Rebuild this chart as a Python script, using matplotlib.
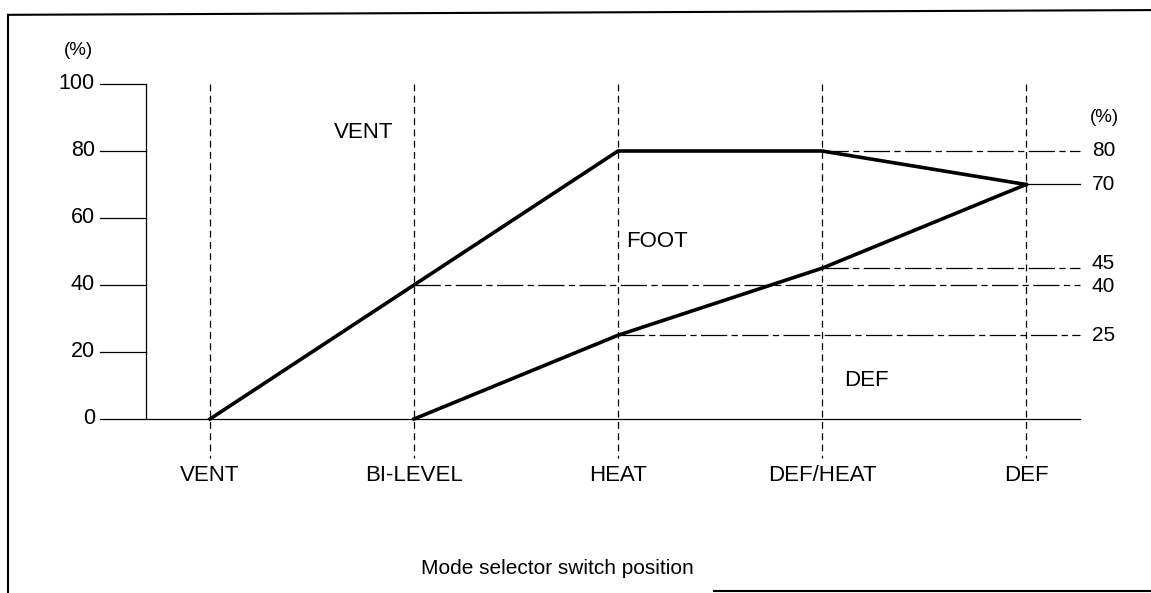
import matplotlib
matplotlib.use('Agg')
import matplotlib.pyplot as plt

plt.rcParams['font.family'] = ['Liberation Sans', 'DejaVu Sans']

# switch positions along the x axis
positions = ['VENT', 'BI-LEVEL', 'HEAT', 'DEF/HEAT', 'DEF']
# upper boundary (VENT / FOOT split), % of airflow
upper_pct = [0, 40, 80, 80, 70]
# lower boundary (FOOT / DEF split), starts at BI-LEVEL
lower_idx = [1, 2, 3, 4]
lower_pct = [0, 25, 45, 70]
# reference levels marked on the right hand scale
ref_levels = [80, 70, 45, 40, 25]
ref_start = [3, 4, 3, 1, 2]
y_ticks = [0, 20, 40, 60, 80, 100]
region_names = ['VENT', 'FOOT', 'DEF']
region_x = [0.755, 2.19, 3.22]
region_y = [85.4, 53, 11.6]

W, H = 1151, 593
fig = plt.figure(figsize=(W / 100, H / 100), dpi=100)
ax = fig.add_axes([0, 0, 1, 1])
ax.axis('off')

# pixel mapping: x=0 at px 210, step 204 px; y=0 at px 419, 3.35 px per %
ax.set_xlim(-210 / 204, (W - 210) / 204)
ax.set_ylim(-(H - 419) / 3.35, 419 / 3.35)

fs = 16      # words
fn = 15.5    # numbers
thin = 0.9
k = 'black'

# outer frame (partial, as scanned)
ax.plot([0.007, 0.007], [0, 0.975], color=k, lw=1.5, transform=ax.transAxes)
ax.plot([0.007, 1.0], [0.975, 0.983], color=k, lw=1.5, transform=ax.transAxes)
ax.plot([0.62, 1.0], [0.003, 0.003], color=k, lw=1.5, transform=ax.transAxes)

# y axis with long ticks
yax_x = (146 - 210) / 204
tick_x0 = (100 - 210) / 204
ax.plot([yax_x, yax_x], [0, 100], color=k, lw=thin)
for t in y_ticks:
    x1 = yax_x if t else (1080 - 210) / 204
    ax.plot([tick_x0, x1], [t, t], color=k, lw=thin)
    ax.text((95 - 210) / 204, t, str(t), ha='right', va='center', fontsize=fn)
ax.text((78 - 210) / 204, 110, '(%)', ha='center', va='center', fontsize=fn - 2)

# vertical dashed guides at each switch position
for i, name in enumerate(positions):
    ax.plot([i, i], [100, -11.5], color=k, lw=thin, dashes=(5.5, 3.5))
    ax.text(i, -16.8, name, ha='center', va='center', fontsize=fs)

# reference levels on the right (45 and 40 sit close, nudge apart a bit)
right_end = (1080 - 210) / 204
nudge = {45: 1.3, 40: -0.3}
for lvl, s in zip(ref_levels, ref_start):
    if s == len(positions) - 1:
        ax.plot([s, right_end], [lvl, lvl], color=k, lw=thin)
    else:
        ax.plot([s, right_end], [lvl, lvl], color=k, lw=thin, dashes=(21, 3.5, 5, 3.5))
    ax.text((1092 - 210) / 204, lvl + nudge.get(lvl, 0), str(lvl), ha='left', va='center', fontsize=fn - 0.5)
ax.text((1090 - 210) / 204, 90, '(%)', ha='left', va='center', fontsize=fn - 2)

# the two boundary curves
ax.plot(range(len(positions)), upper_pct, color=k, lw=2.6, solid_joinstyle='miter')
ax.plot(lower_idx, lower_pct, color=k, lw=2.6, solid_joinstyle='miter')

for name, x, y in zip(region_names, region_x, region_y):
    ax.text(x, y, name, ha='center', va='center', fontsize=fs)

ax.text((557 - 210) / 204, -44.5, 'Mode selector switch position', ha='center', va='center', fontsize=15)

fig.savefig('out.png', dpi=100)
